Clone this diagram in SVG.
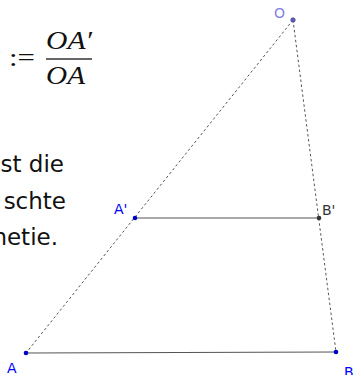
<svg xmlns="http://www.w3.org/2000/svg" width="354" height="375" viewBox="0 0 354 375">
<style>
.body{font-family:"DejaVu Sans","Liberation Sans",sans-serif;font-size:23px;fill:#111}
.math{font-family:"Liberation Serif","DejaVu Serif",serif;font-size:25px;fill:#111}
.it{font-style:italic}
.lbl{font-family:"DejaVu Sans","Liberation Sans",sans-serif;font-size:14px}
.dash{stroke:#555;stroke-width:1;stroke-dasharray:2.5,2.5;fill:none}
.seg{stroke:#555;stroke-width:1.2;fill:none}
</style>
<rect width="354" height="375" fill="#ffffff"/>
<g id="formula">
<text class="math it" x="-11.5" y="64">k</text>
<text class="math" x="9" y="66" textLength="26" lengthAdjust="spacingAndGlyphs">:=</text>
<text class="math it" x="46" y="49" textLength="46" lengthAdjust="spacingAndGlyphs">OA′</text>
<line x1="46" y1="59" x2="92" y2="59" stroke="#333" stroke-width="1.3"/>
<text class="math it" x="46" y="84" textLength="39" lengthAdjust="spacingAndGlyphs">OA</text>
</g>
<g id="paragraph">
<text class="body" x="64" y="172" text-anchor="end">st die</text>
<text class="body" x="66" y="209" text-anchor="end">schte</text>
<text class="body" x="58" y="245" text-anchor="end">netie.</text>
</g>
<g id="connectors">
<line class="dash" x1="293" y1="20" x2="26" y2="353"/>
<line class="dash" x1="293" y1="20" x2="336" y2="352"/>
<line class="seg" x1="135" y1="218" x2="319" y2="218"/>
<line class="seg" x1="26" y1="353" x2="336" y2="352"/>
</g>
<g id="O">
<circle cx="293" cy="20" r="2.3" fill="#5c5cd6" stroke="#333" stroke-width="0.5"/>
<text class="lbl" x="274" y="18" fill="#7f7fdf">O</text>
</g>
<g id="A1">
<circle cx="135" cy="218" r="2.3" fill="#0000cc"/>
<text class="lbl" x="114" y="214" fill="#0000ff">A'</text>
</g>
<g id="B1">
<circle cx="319" cy="218" r="2.3" fill="#333"/>
<text class="lbl" x="322" y="215" fill="#333">B'</text>
</g>
<g id="A">
<circle cx="26" cy="353" r="2.3" fill="#0000cc"/>
<text class="lbl" x="7" y="373" fill="#0000ff">A</text>
</g>
<g id="B">
<circle cx="336" cy="352" r="2.3" fill="#0000cc"/>
<text class="lbl" x="344" y="377" fill="#0000ff">B</text>
</g>
</svg>
